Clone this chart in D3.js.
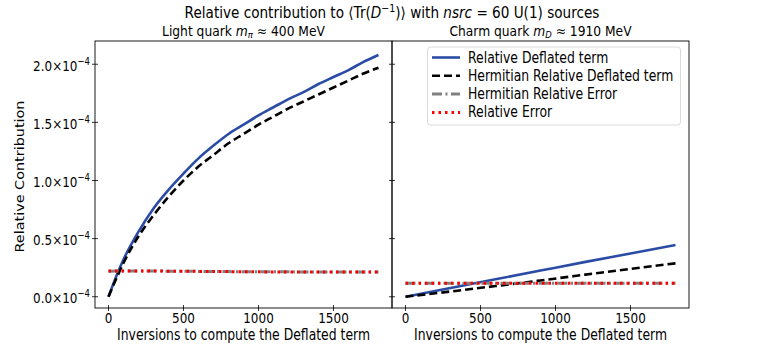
<html>
<style>
    body { margin:0; background:#fff }
    text { font-family:"DejaVu Sans", sans-serif; fill:#000 }
</style>
<script src="https://d3js.org/d3.v7.min.js" charset="utf-8"></script>
<body>
<div class="chart"></div>
<script>
    //************************************************************
    // Data (contribution in units of 1e-4)
    //************************************************************
    var lightX = [0, 50, 100, 200, 300, 400, 500, 600, 700, 800, 900, 1000, 1100, 1200, 1300, 1400, 1500, 1600, 1700, 1800];
    var lightDeflated = [0, 0.17, 0.32, 0.56, 0.76, 0.92, 1.06, 1.19, 1.30, 1.40, 1.48, 1.56, 1.63, 1.70, 1.76, 1.83, 1.89, 1.95, 2.02, 2.08];
    var lightHermDeflated = [0, 0.15, 0.29, 0.52, 0.70, 0.86, 1.00, 1.12, 1.22, 1.32, 1.40, 1.48, 1.55, 1.62, 1.68, 1.74, 1.80, 1.86, 1.92, 1.97];
    var lightErrX = [0, 200, 400, 600, 800, 1000, 1200, 1400, 1600, 1800];
    var lightHermError = [0.220, 0.221, 0.220, 0.218, 0.216, 0.215, 0.214, 0.213, 0.213, 0.213];
    var lightError = [0.221, 0.222, 0.220, 0.218, 0.216, 0.214, 0.213, 0.212, 0.212, 0.212];

    var charmX = [0, 300, 600, 900, 1200, 1500, 1800];
    var charmDeflated = [0, 0.075, 0.15, 0.225, 0.30, 0.372, 0.445];
    var charmHermDeflated = [0, 0.045, 0.092, 0.14, 0.19, 0.24, 0.287];
    var charmHermError = [0.115, 0.115, 0.115, 0.115, 0.115, 0.115, 0.115];
    var charmError = [0.116, 0.116, 0.116, 0.116, 0.116, 0.116, 0.116];

    var xTicks = [0, 500, 1000, 1500];
    var yTicks = [0, 0.5, 1.0, 1.5, 2.0];
    var seriesNames = ["Relative Deflated term", "Hermitian Relative Deflated term",
        "Hermitian Relative Error", "Relative Error"];

    //************************************************************
    // Configuration
    //************************************************************
    var width = 763, height = 347;
    var plotTop = 41, plotBottom = 308;
    var stretch = 1.22;   // the picture's text is a bit taller than wide
    var panels = [
        { left: 95, right: 392, title: "Light quark ", sym: "m", sub: "\u03c0", rest: " \u2248 400 MeV",
          x: lightX, ex: lightErrX, d: lightDeflated, hd: lightHermDeflated, he: lightHermError, e: lightError },
        { left: 392, right: 689, title: "Charm quark ", sym: "m", sub: "D", rest: " \u2248 1910 MeV",
          x: charmX, ex: charmX, d: charmDeflated, hd: charmHermDeflated, he: charmHermError, e: charmError }
    ];

    var styles = [
        { color: "#2a4ca4", width: 2.6, dash: null },
        { color: "#000", width: 2.6, dash: "8,4" },
        { color: "#808080", width: 3, dash: "10,3.5,2,3.5" },
        { color: "#ff0000", width: 3, dash: "2.5,4" }
    ];

    function place(x, y, k) {
        return "translate(" + x + "," + y + ") scale(1," + (k || stretch) + ")";
    }

    var svg = d3.select(".chart").append("svg")
        .attr("width", width)
        .attr("height", height);

    var y = d3.scaleLinear().domain([-0.097, 2.2]).range([plotBottom, plotTop]);

    // main title
    var t = svg.append("text").attr("transform", place(392, 18, 1.12))
        .attr("text-anchor", "middle").style("font-size", "13.6px");
    t.append("tspan").text("Relative contribution to \u27e8Tr(");
    t.append("tspan").style("font-style", "italic").text("D");
    t.append("tspan").attr("dy", -5).style("font-size", "9.5px").text("\u22121");
    t.append("tspan").attr("dy", 5).text(")\u27e9 with ");
    t.append("tspan").style("font-style", "italic").text("nsrc");
    t.append("tspan").text(" = 60 U(1) sources");

    // y label
    svg.append("text")
        .attr("transform", "translate(24," + ((plotTop + plotBottom) / 2 + 2) + ") scale(1," + stretch + ") rotate(-90)")
        .attr("text-anchor", "middle")
        .style("font-size", "11.8px")
        .text("Relative Contribution");

    // y tick labels (left panel only)
    var yl = svg.append("g").selectAll("text").data(yTicks).enter().append("text")
        .attr("transform", function(d){ return place(90, y(d) + 6.5); })
        .attr("text-anchor", "end")
        .style("font-size", "12px");
    yl.append("tspan").text(function(d){ return d.toFixed(1) + "\u00d710"; });
    yl.append("tspan").attr("dy", -5).style("font-size", "8.5px").text("\u22124");

    panels.forEach(function(p, pi) {
        var x = d3.scaleLinear().domain([-90, 1890]).range([p.left, p.right]);
        var g = svg.append("g");

        // subtitle
        var st = g.append("text").attr("transform", place((p.left + p.right) / 2, 35.5, 1.12))
            .attr("text-anchor", "middle").style("font-size", "12.3px");
        st.append("tspan").text(p.title);
        st.append("tspan").style("font-style", "italic").text(p.sym);
        st.append("tspan").attr("dy", 2.5).style("font-size", "8.5px").style("font-style", "italic").text(p.sub);
        st.append("tspan").attr("dy", -2.5).text(p.rest);

        // ticks (in and out)
        g.selectAll("line.xt").data(xTicks).enter().append("line")
            .attr("x1", function(d){ return x(d); }).attr("x2", function(d){ return x(d); })
            .attr("y1", plotBottom - 3).attr("y2", plotBottom + 3)
            .attr("stroke", "#000").attr("stroke-width", 0.8);
        g.selectAll("line.yt").data(yTicks).enter().append("line")
            .attr("x1", p.left - 3).attr("x2", p.left + 3)
            .attr("y1", function(d){ return y(d); }).attr("y2", function(d){ return y(d); })
            .attr("stroke", "#000").attr("stroke-width", 0.8);

        g.selectAll("text.xl").data(xTicks).enter().append("text")
            .attr("transform", function(d){ return place(x(d), 323); })
            .attr("text-anchor", "middle")
            .style("font-size", "12px")
            .text(function(d){ return d; });

        g.append("text").attr("transform", place((p.left + p.right) / 2, 339.5))
            .attr("text-anchor", "middle").style("font-size", "12.4px")
            .text("Inversions to compute the Deflated term");

        // lines
        var series = [
            p.x.map(function(v, i){ return [v, p.d[i]]; }),
            p.x.map(function(v, i){ return [v, p.hd[i]]; }),
            p.ex.map(function(v, i){ return [v, p.he[i]]; }),
            p.ex.map(function(v, i){ return [v, p.e[i]]; })
        ];
        var line = d3.line()
            .x(function(d){ return x(d[0]); })
            .y(function(d){ return y(d[1]); })
            .curve(d3.curveMonotoneX);
        g.selectAll("path.s").data(series).enter().append("path")
            .attr("d", line)
            .attr("fill", "none")
            .attr("stroke", function(d, i){ return styles[i].color; })
            .attr("stroke-width", function(d, i){ return styles[i].width; })
            .attr("stroke-dasharray", function(d, i){ return styles[i].dash; });

        // frame
        g.append("rect")
            .attr("x", p.left).attr("y", plotTop)
            .attr("width", p.right - p.left).attr("height", plotBottom - plotTop)
            .attr("fill", "none").attr("stroke", "#000").attr("stroke-width", 0.9);

        // legend in the right panel
        if (pi == 1) {
            var lg = g.append("g");
            lg.append("rect")
                .attr("x", 427.5).attr("y", 47)
                .attr("width", 253).attr("height", 78)
                .attr("rx", 3)
                .attr("fill", "#fff").attr("fill-opacity", 0.8)
                .attr("stroke", "#d6d6d6").attr("stroke-width", 0.9);
            var items = lg.selectAll("g.item").data(seriesNames).enter().append("g")
                .attr("transform", function(d, i){ return "translate(0," + (57.5 + i * 18.3) + ")"; });
            items.append("line")
                .attr("x1", 432).attr("x2", 460).attr("y1", 0).attr("y2", 0)
                .attr("stroke", function(d, i){ return styles[i].color; })
                .attr("stroke-width", function(d, i){ return styles[i].width; })
                .attr("stroke-dasharray", function(d, i){ return styles[i].dash; });
            items.append("text")
                .attr("transform", place(468, 5))
                .style("font-size", "12.4px")
                .text(function(d){ return d; });
        }
    });
</script>
</body>
</html>
